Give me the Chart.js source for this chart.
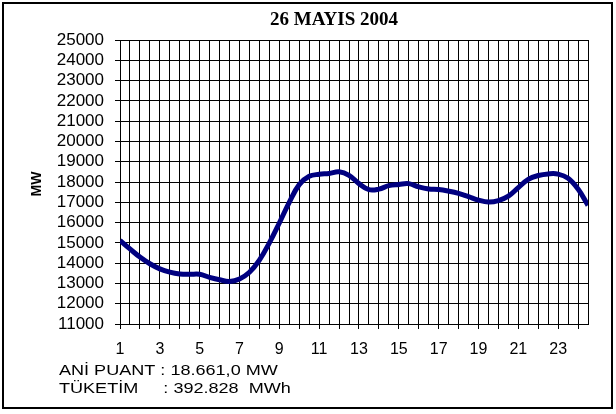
<!DOCTYPE html>
<html>
<head>
<meta charset="utf-8">
<script src="https://cdn.jsdelivr.net/npm/chart.js@4.4.1/dist/chart.umd.min.js"></script>
<style>
html,body{margin:0;padding:0;background:#fff;}
#wrap{width:616px;height:414px;position:relative;}
</style>
</head>
<body>
<div id="wrap"><canvas id="c" width="616" height="414"></canvas></div>
<script>
const chartTitle = '26 MAYIS 2004';
const yAxisTitle = 'MW';
const infoLines = ['ANİ PUANT : 18.661,0 MW', 'TÜKETİM     : 392.828  MWh'];
const hours = [1,1.5,2,2.5,3,3.5,4,4.5,5,5.5,6,6.5,7,7.5,8,8.5,9,9.5,10,10.5,11,11.5,12,12.5,13,13.5,14,14.5,15,15.5,16,16.5,17,17.5,18,18.5,19,19.5,20,20.5,21,21.5,22,22.5,23,23.5,24,24.5];
const loadMW = [15120,14700,14300,13970,13720,13560,13470,13450,13450,13300,13180,13100,13220,13550,14150,15000,15980,17000,17870,18280,18380,18420,18500,18330,17920,17620,17650,17820,17880,17920,17760,17660,17630,17550,17440,17280,17110,17010,17080,17300,17720,18130,18320,18400,18390,18180,17650,16850];
const yMin = 11000, yMax = 25000, yStep = 1000;
const xMin = 1, xMax = 24.5, xStep = 0.5;

function stretchedText(ctx, text, x, y, sx, rot) {
  ctx.save();
  ctx.translate(x, y);
  ctx.scale(sx, 1);
  if (rot) ctx.rotate(rot);
  ctx.fillText(text, 0, 0);
  ctx.restore();
}

const framePlugin = {
  id: 'frame',
  afterDraw(chart) {
    const ctx = chart.ctx;
    ctx.save();
    ctx.strokeStyle = '#000';
    ctx.lineWidth = 2;
    ctx.strokeRect(3, 3, 609, 405);
    ctx.fillStyle = '#000';
    ctx.textAlign = 'center';
    ctx.textBaseline = 'middle';
    ctx.font = 'bold 19px "Liberation Serif", "Times New Roman", serif';
    stretchedText(ctx, chartTitle, 334, 20, 1.0);
    ctx.font = 'bold 14px "Liberation Sans", Arial, sans-serif';
    stretchedText(ctx, yAxisTitle, 37, 184, 1.1, -Math.PI / 2);
    ctx.textAlign = 'left';
    ctx.font = '14px "Liberation Sans", Arial, sans-serif';
    stretchedText(ctx, infoLines[0], 59, 371, 1.29);
    stretchedText(ctx, infoLines[1], 59, 389, 1.29);
    ctx.restore();
  }
};

new Chart(document.getElementById('c'), {
  type: 'line',
  data: {
    datasets: [{
      data: hours.map((h, i) => ({x: h, y: loadMW[i]})),
      borderColor: '#000080',
      borderWidth: 5,
      pointRadius: 0,
      tension: 0.4,
      fill: false
    }]
  },
  options: {
    responsive: false,
    animation: false,
    devicePixelRatio: 1,
    layout: {padding: {left: 0, right: 28, top: 40, bottom: 60}},
    plugins: {legend: {display: false}, tooltip: {enabled: false}, title: {display: false}},
    scales: {
      x: {
        type: 'linear',
        min: xMin, max: xMax,
        afterFit(s) { s.height = 30; },
        afterBuildTicks(s) {
          const t = [];
          for (let v = xMin; v <= xMax + 1e-9; v += xStep) t.push({value: v});
          s.ticks = t;
        },
        ticks: {
          autoSkip: false, maxRotation: 0, minRotation: 0,
          color: '#000', padding: 11,
          font: {family: '"Liberation Sans", Arial, sans-serif', size: 16},
          callback: (v) => (Number.isInteger(v) && v % 2 === 1) ? String(v) : ''
        },
        grid: {
          color: '#000', lineWidth: 1, tickLength: 5,
          tickColor: (ctx) => (ctx.tick && Number.isInteger(ctx.tick.value)) ? '#000' : 'rgba(0,0,0,0)'
        },
        border: {color: '#000', width: 1}
      },
      y: {
        min: yMin, max: yMax,
        afterFit(s) { s.width = 120; },
        afterBuildTicks(s) {
          const t = [];
          for (let v = yMin; v <= yMax; v += yStep) t.push({value: v});
          s.ticks = t;
        },
        ticks: {
          autoSkip: false, color: '#000', padding: 11,
          font: {family: '"Liberation Sans", Arial, sans-serif', size: 17},
          callback: (v) => String(v)
        },
        grid: {color: '#000', lineWidth: 1, tickLength: 5, tickColor: '#000'},
        border: {color: '#000', width: 1},
        title: {display: false, text: yAxisTitle}
      }
    }
  },
  plugins: [framePlugin]
});
</script>
</body>
</html>
